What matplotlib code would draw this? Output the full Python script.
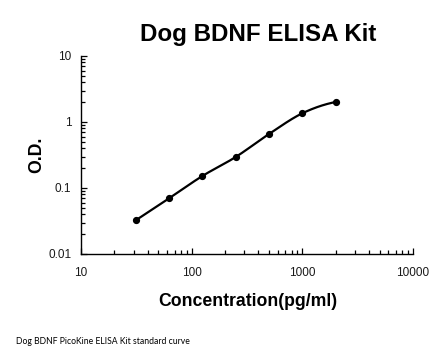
import numpy as np
import matplotlib
matplotlib.use("Agg")
import matplotlib.pyplot as plt
from matplotlib.ticker import LogLocator, NullFormatter, FixedLocator, FixedFormatter

# Data
concentration = [31.25, 62.5, 125, 250, 500, 1000, 2000]
od_values = [0.0324, 0.0698, 0.152, 0.295, 0.658, 1.355, 2.01]
x_ticks = [10, 100, 1000, 10000]
x_tick_labels = ["10", "100", "1000", "10000"]
y_ticks = [0.01, 0.1, 1, 10]
y_tick_labels = ["0.01", "0.1", "1", "10"]

title = "Dog BDNF ELISA Kit"
xlabel = "Concentration(pg/ml)"
ylabel = "O.D."
footnote = "Dog BDNF PicoKine ELISA Kit standard curve"

font = "Liberation Sans"


def smooth_path(xs, ys, n=40):
    # Smooth Bezier curve through the points in log-log space
    lx = np.log10(np.asarray(xs, float))
    ly = np.log10(np.asarray(ys, float))
    P = np.column_stack([lx, ly])
    m = len(P)
    T = np.zeros_like(P)
    for i in range(1, m - 1):
        T[i] = (P[i + 1] - P[i - 1]) / 2.0
    T[0] = (-3 * P[0] + 4 * P[1] - P[2]) / 2.0
    T[-1] = (3 * P[-1] - 4 * P[-2] + P[-3]) / 2.0
    out = []
    t = np.linspace(0, 1, n)[:, None]
    for i in range(m - 1):
        p1, p2 = P[i], P[i + 1]
        c1 = p1 + T[i] / 3.0
        c2 = p2 - T[i + 1] / 3.0
        seg = ((1 - t) ** 3) * p1 + 3 * ((1 - t) ** 2) * t * c1 + 3 * (1 - t) * t ** 2 * c2 + t ** 3 * p2
        out.append(seg if i == 0 else seg[1:])
    out = np.vstack(out)
    return 10 ** out[:, 0], 10 ** out[:, 1]


fig = plt.figure(figsize=(4.46, 3.56), dpi=100)
ax = fig.add_axes([81 / 446, 1 - 254 / 356, 332 / 446, 198 / 356])

sx, sy = smooth_path(concentration, od_values)
ax.plot(sx, sy, color="black", lw=1.6, solid_capstyle="round", solid_joinstyle="round", zorder=2)
ax.plot(concentration, od_values, "o", color="black", ms=4.2, zorder=3)

ax.set_xscale("log")
ax.set_yscale("log")
ax.set_xlim(10, 10000)
ax.set_ylim(0.01, 10)

ax.xaxis.set_major_locator(FixedLocator(x_ticks))
ax.xaxis.set_major_formatter(FixedFormatter(x_tick_labels))
ax.yaxis.set_major_locator(FixedLocator(y_ticks))
ax.yaxis.set_major_formatter(FixedFormatter(y_tick_labels))
ax.xaxis.set_minor_locator(LogLocator(base=10, subs=np.arange(2, 10), numticks=20))
ax.yaxis.set_minor_locator(LogLocator(base=10, subs=np.arange(2, 10), numticks=20))
ax.xaxis.set_minor_formatter(NullFormatter())
ax.yaxis.set_minor_formatter(NullFormatter())

for s in ["top", "right"]:
    ax.spines[s].set_visible(False)
for s in ["left", "bottom"]:
    ax.spines[s].set_linewidth(1.0)
    ax.spines[s].set_color("black")

ax.tick_params(which="both", direction="in", width=0.9, color="black")
ax.tick_params(which="major", length=4)
ax.tick_params(which="minor", length=3.2)
ax.tick_params(axis="x", which="major", pad=9, labelsize=8.5)
ax.tick_params(axis="y", which="major", pad=7, labelsize=8.5)
for lab in ax.get_xticklabels() + ax.get_yticklabels():
    lab.set_fontfamily(font)
    lab.set_color("#1a1a1a")

fig.text(258 / 446, 1 - 34 / 356, title, ha="center", va="center",
         fontsize=17.4, fontweight="bold", family=font)
fig.text(247.5 / 446, 1 - 302 / 356, xlabel, ha="center", va="center",
         fontsize=12.7, fontweight="bold", family=font)
fig.text(37 / 446, 1 - 155 / 356, ylabel, ha="center", va="center", rotation=90,
         fontsize=12.7, fontweight="bold", family=font)
fig.text(16 / 446, 1 - 341.5 / 356, footnote, ha="left", va="center",
         fontsize=6.2, family="Lato")

fig.savefig("out.png", dpi=100)
